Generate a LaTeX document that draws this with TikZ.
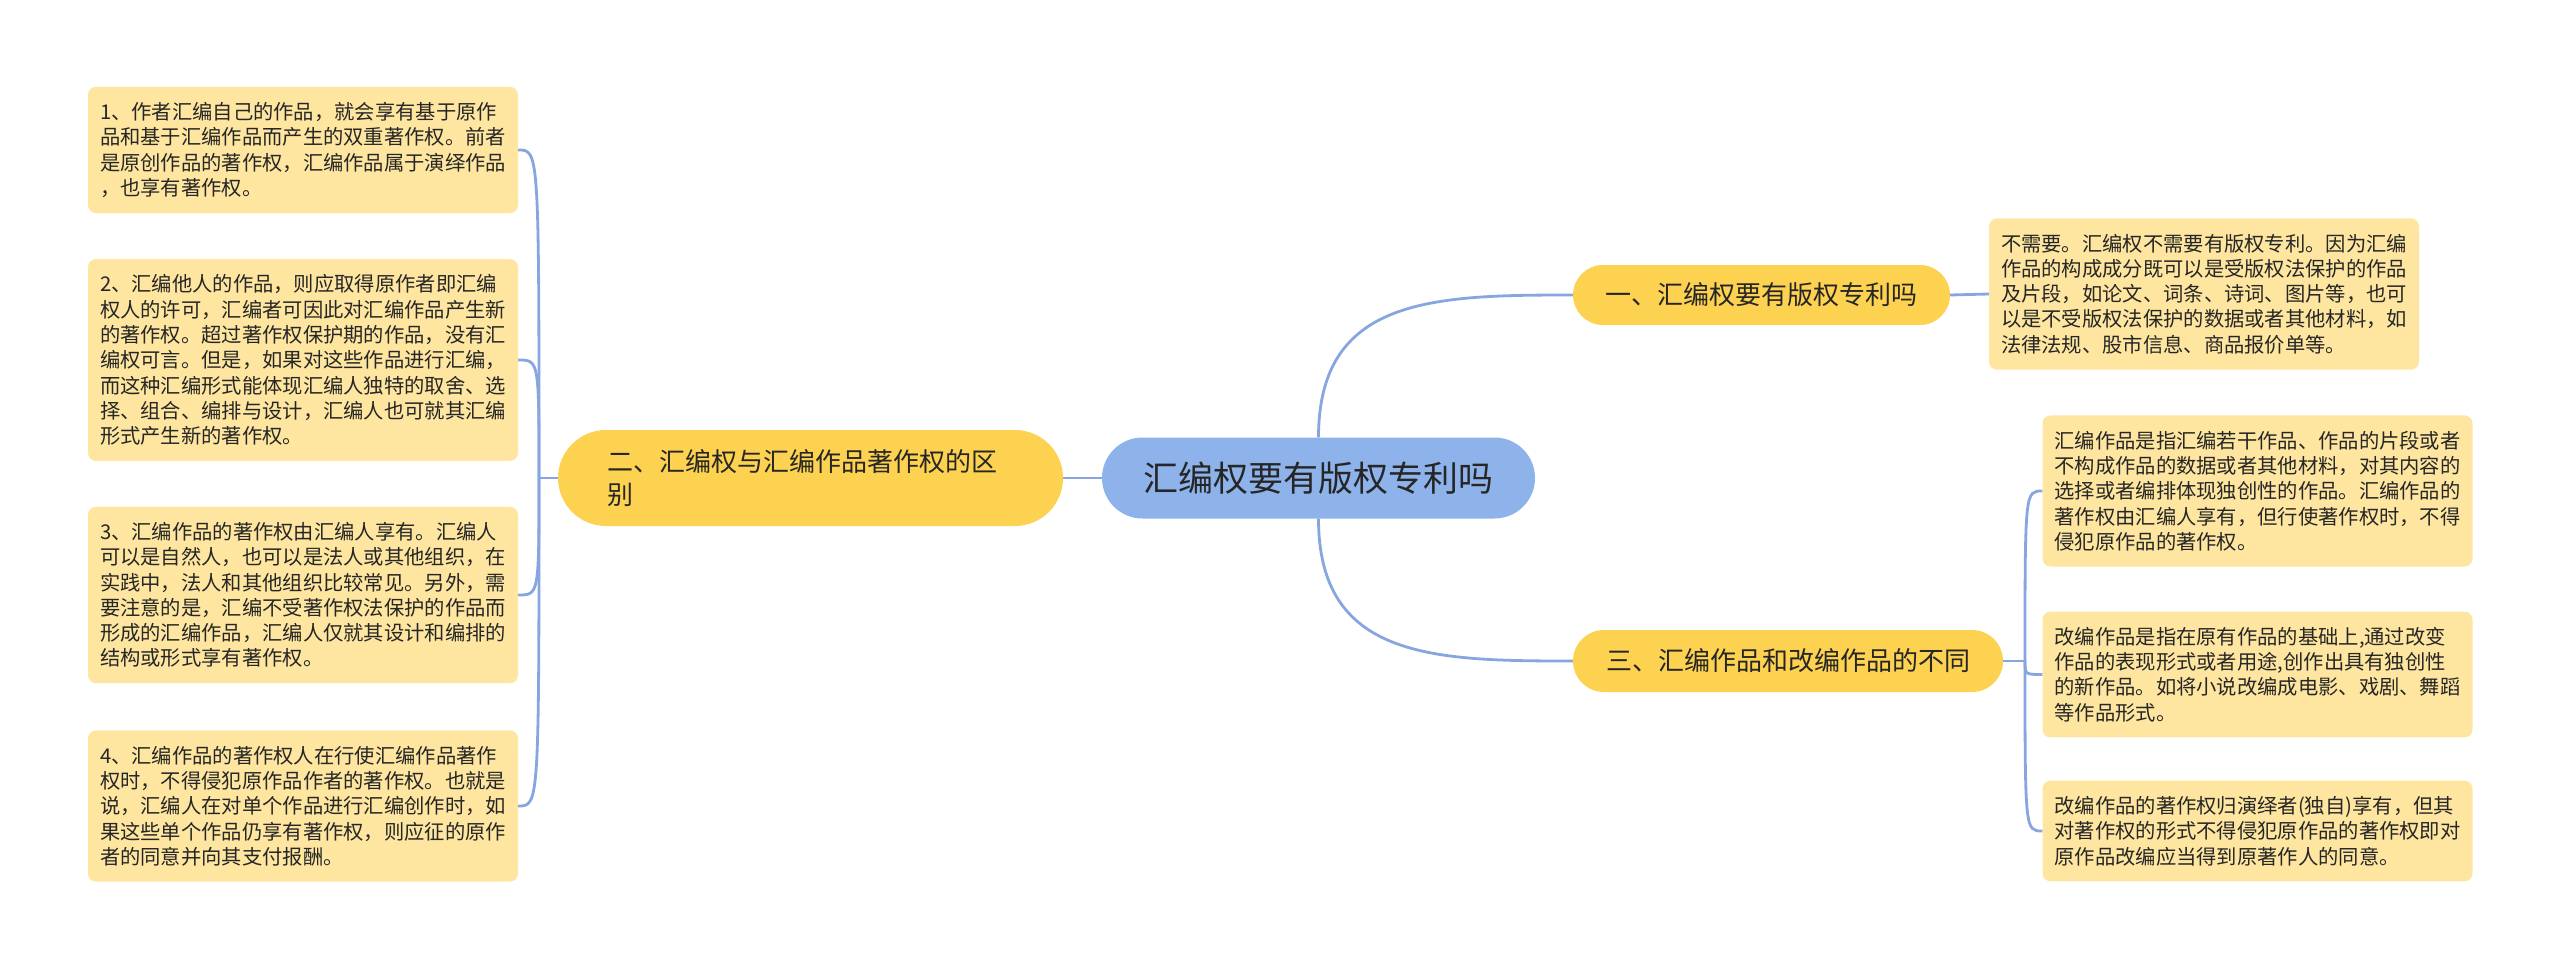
\documentclass[tikz,border=0pt]{standalone}
\usepackage{fontspec}
\setmainfont{Noto Sans CJK SC}
\usetikzlibrary{calc}
\definecolor{rootblue}{RGB}{142,179,234}
\definecolor{branchyel}{RGB}{253,210,80}
\definecolor{leafyel}{RGB}{254,230,160}
\definecolor{linkblue}{RGB}{135,166,224}
\definecolor{txt}{RGB}{38,38,38}
\begin{document}
\begin{tikzpicture}[x=1pt,y=-1pt,
  rootbox/.style={fill=rootblue, rounded corners=40.5pt, minimum width=433pt, minimum height=81pt, inner sep=0pt, font=\fontsize{35}{40}\selectfont, text=txt},
  branchbox/.style={fill=branchyel, rounded corners=30pt, minimum height=60pt, inner sep=0pt, font=\fontsize{26}{33}\selectfont, text=txt},
  leafbox/.style={fill=leafyel, rounded corners=8pt, text width=406pt, inner xsep=12pt, inner ysep=15.5pt, align=left, font=\fontsize{20.3}{25.3}\selectfont, text=txt},
  link/.style={draw=linkblue, line width=2.8pt}
]
\fill[white] (0,0) rectangle (2560,969);
\useasboundingbox (0,0) rectangle (2560,969);

\node[rootbox] (root) at (1318.5,478) {汇编权要有版权专利吗};
\node[branchbox, minimum width=377pt] (b1) at (1761.5,295) {一、汇编权要有版权专利吗};
\node[branchbox, minimum width=505pt, minimum height=96pt, rounded corners=48pt, text width=407pt, inner xsep=49pt, align=left] (b2) at (810.5,478) {二、汇编权与汇编作品著作权的区\\别};
\node[branchbox, minimum width=430pt, minimum height=62pt, rounded corners=31pt] (b3) at (1788,661) {三、汇编作品和改编作品的不同};

\node[leafbox] (L1) at (303,150) {1、作者汇编自己的作品，就会享有基于原作\\品和基于汇编作品而产生的双重著作权。前者\\是原创作品的著作权，汇编作品属于演绎作品\\，也享有著作权。};
\node[leafbox] (L2) at (303,360) {2、汇编他人的作品，则应取得原作者即汇编\\权人的许可，汇编者可因此对汇编作品产生新\\的著作权。超过著作权保护期的作品，没有汇\\编权可言。但是，如果对这些作品进行汇编，\\而这种汇编形式能体现汇编人独特的取舍、选\\择、组合、编排与设计，汇编人也可就其汇编\\形式产生新的著作权。};
\node[leafbox] (L3) at (303,595) {3、汇编作品的著作权由汇编人享有。汇编人\\可以是自然人，也可以是法人或其他组织，在\\实践中，法人和其他组织比较常见。另外，需\\要注意的是，汇编不受著作权法保护的作品而\\形成的汇编作品，汇编人仅就其设计和编排的\\结构或形式享有著作权。};
\node[leafbox] (L4) at (303,806) {4、汇编作品的著作权人在行使汇编作品著作\\权时，不得侵犯原作品作者的著作权。也就是\\说，汇编人在对单个作品进行汇编创作时，如\\果这些单个作品仍享有著作权，则应征的原作\\者的同意并向其支付报酬。};

\node[leafbox] (R1) at (2204,294) {不需要。汇编权不需要有版权专利。因为汇编\\作品的构成成分既可以是受版权法保护的作品\\及片段，如论文、词条、诗词、图片等，也可\\以是不受版权法保护的数据或者其他材料，如\\法律法规、股市信息、商品报价单等。};
\node[leafbox] (R2) at (2257.5,491) {汇编作品是指汇编若干作品、作品的片段或者\\不构成作品的数据或者其他材料，对其内容的\\选择或者编排体现独创性的作品。汇编作品的\\著作权由汇编人享有，但行使著作权时，不得\\侵犯原作品的著作权。};
\node[leafbox] (R3) at (2257.5,674.5) {改编作品是指在原有作品的基础上,通过改变\\作品的表现形式或者用途,创作出具有独创性\\的新作品。如将小说改编成电影、戏剧、舞蹈\\等作品形式。};
\node[leafbox] (R4) at (2257.5,831) {改编作品的著作权归演绎者(独自)享有，但其\\对著作权的形式不得侵犯原作品的著作权即对\\原作品改编应当得到原著作人的同意。};

\coordinate (j2) at (539,478);
\coordinate (j3) at (2025,661);

\draw[link] (root.west) -- (b2.east);
\draw[link] (root.north) .. controls ($(root.north)+(0,-140)$) and ($(b1.west)+(-140,0)$) .. (b1.west);
\draw[link] (root.south) .. controls ($(root.south)+(0,140)$) and ($(b3.west)+(-140,0)$) .. (b3.west);
\draw[link] (b1.east) -- (R1.west);
\draw[link] (b2.west) -- (j2);
\foreach \n in {L1,L2,L3,L4} \draw[link] (j2) .. controls (j2 |- \n.east) and (j2 |- \n.east) .. (\n.east);
\draw[link] (b3.east) -- (j3);
\foreach \n in {R2,R3,R4} \draw[link] (j3) .. controls (j3 |- \n.west) and (j3 |- \n.west) .. (\n.west);
\end{tikzpicture}
\end{document}
